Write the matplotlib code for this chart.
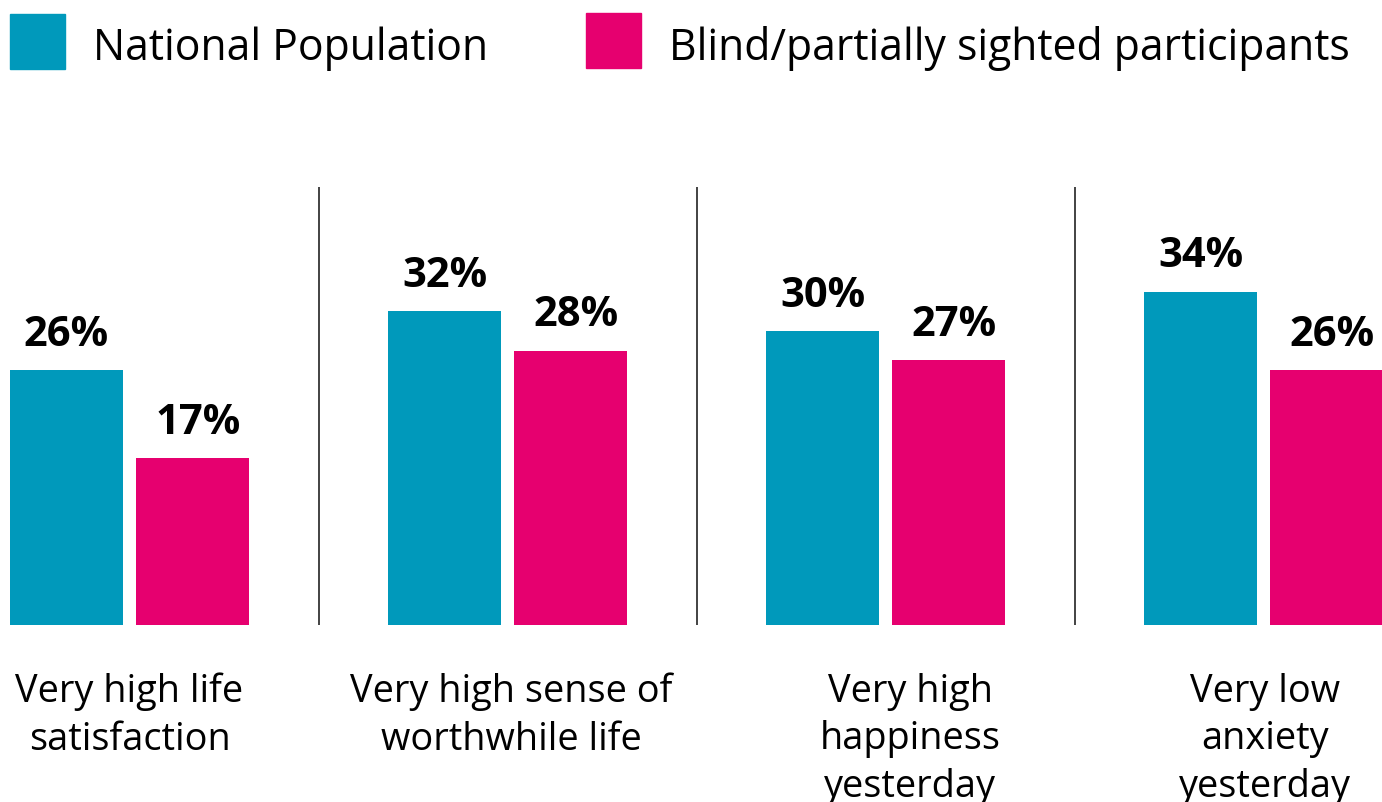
import matplotlib
matplotlib.use("Agg")
import matplotlib.pyplot as plt
from matplotlib.patches import Rectangle
import numpy as np

categories = ["Very high life\nsatisfaction",
              "Very high sense of\nworthwhile life",
              "Very high\nhappiness\nyesterday",
              "Very low\nanxiety\nyesterday"]
national = [26, 32, 30, 34]
blind = [17, 28, 27, 26]
series_names = ["National Population", "Blind/partially sighted participants"]

teal = "#0099BB"
pink = "#E6006F"

plt.rcParams['font.family'] = ['Open Sans', 'DejaVu Sans']

W, H = 1382, 803
fig = plt.figure(figsize=(W / 100, H / 100), dpi=100)
ax = fig.add_axes([0, 0.2204, 1, 0.7796])

x = np.arange(len(categories))
w = 0.3
off = 0.1667
ax.bar(x - off, national, w, color=teal)
ax.bar(x + off, blind, w, color=pink)

for xi, v in zip(x - off, national):
    ax.text(xi, v + 2.6, f"{v}%", ha='center', va='baseline',
            fontsize=30, fontweight='bold')
for xi, v in zip(x + off, blind):
    ax.text(xi + 0.015, v + 2.6, f"{v}%", ha='center', va='baseline',
            fontsize=30, fontweight='bold')

# thin dividers between the groups
ax.vlines(x[:-1] + 0.5, 0, 44.7, color='#222222', lw=1.2)

# category labels under each group; va='baseline' sits on the last line,
# so drop it by one line step per extra line
px_per_unit = 9.8
nudge = [0, 0.01, 0.065, 0.003]
for xi, lab, n in zip(x, categories, nudge):
    nlines = lab.count("\n") + 1
    y = -(77 + 47 * (nlines - 1)) / px_per_unit
    ax.text(xi + n, y, lab, ha='center', va='baseline',
            fontsize=27.3, linespacing=1.33, clip_on=False)

ax.set_xlim(-0.3426, 3.3134)
ax.set_ylim(0, 63.88)
ax.axis('off')

# legend drawn by hand along the top
for (sx, sy), tx, col, name in zip([(10, 15), (586, 14)], [93, 669], [teal, pink], series_names):
    fig.patches.append(Rectangle((sx / W, 1 - (sy + 55) / H), 55 / W, 55 / H,
                                 transform=fig.transFigure, color=col))
    fig.text(tx / W, 1 - 60 / H, name, fontsize=30.8, va='baseline', ha='left')

fig.savefig("out.png", dpi=100)
